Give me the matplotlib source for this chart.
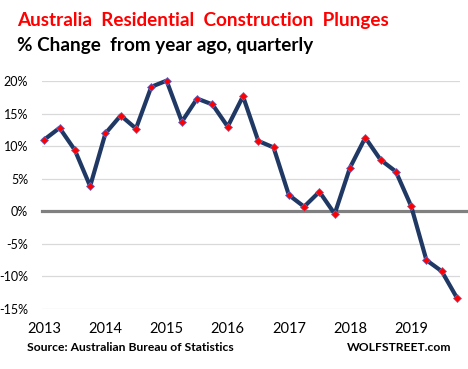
import matplotlib.pyplot as plt

# quarterly % change, 2013 Q1 .. 2019 Q4
values = [11.0, 12.8, 9.4, 3.85, 11.95, 14.7, 12.7, 19.1,
          20.05, 13.75, 17.3, 16.4, 13.0, 17.65, 10.8, 9.8,
          2.5, 0.7, 3.0, -0.4, 6.7, 11.3, 7.9, 6.1,
          0.8, -7.5, -9.2, -13.3]
years = ['2013', '2014', '2015', '2016', '2017', '2018', '2019']
y_ticks = [-15, -10, -5, 0, 5, 10, 15, 20]

plt.rcParams['font.family'] = ['Lato', 'DejaVu Sans']

fig = plt.figure(figsize=(4.68, 3.69), dpi=100)
ax = fig.add_axes([0.0897, 0.1626, 0.8933, 0.6179])

quarters = list(range(len(values)))

for t in y_ticks:
    if t != 0:
        ax.axhline(t, color='#d9d9d9', lw=0.9, zorder=1)
ax.plot([-0.15, 27.8], [0, 0], color='#808080', lw=2.3, zorder=2, clip_on=False)

ax.plot(quarters, values, color='#1f3864', lw=3.0, zorder=3,
        marker='D', markersize=3.6, markerfacecolor='#ff0000',
        markeredgecolor='#5b6fd6', markeredgewidth=0.5, clip_on=False)

ax.set_xlim(-0.15, 27.2)
ax.set_ylim(-15, 20)
ax.set_yticks(y_ticks)
ax.set_yticklabels([str(t) + '%' for t in y_ticks], fontsize=9)
ax.set_xticks([4 * i for i in range(len(years))])
ax.set_xticklabels(years, fontsize=10.5)
ax.tick_params(length=0)
ax.tick_params(axis='y', pad=10)
ax.tick_params(axis='x', pad=9)
for s in ax.spines.values():
    s.set_visible(False)

fig.text(0.036, 0.945, 'Australia  Residential  Construction  Plunges', color='#ff0000',
         fontsize=13.6, fontweight='bold', va='center')
fig.text(0.036, 0.876, '% Change  from year ago, quarterly', color='black',
         fontsize=13.6, fontweight='bold', va='center')
fig.text(0.058, 0.058, 'Source: Australian Bureau of Statistics', fontsize=8.7,
         fontweight='bold', va='center')
fig.text(0.964, 0.058, 'WOLFSTREET.com', fontsize=8.7, fontweight='bold',
         va='center', ha='right')

fig.savefig('out.png', dpi=100)
